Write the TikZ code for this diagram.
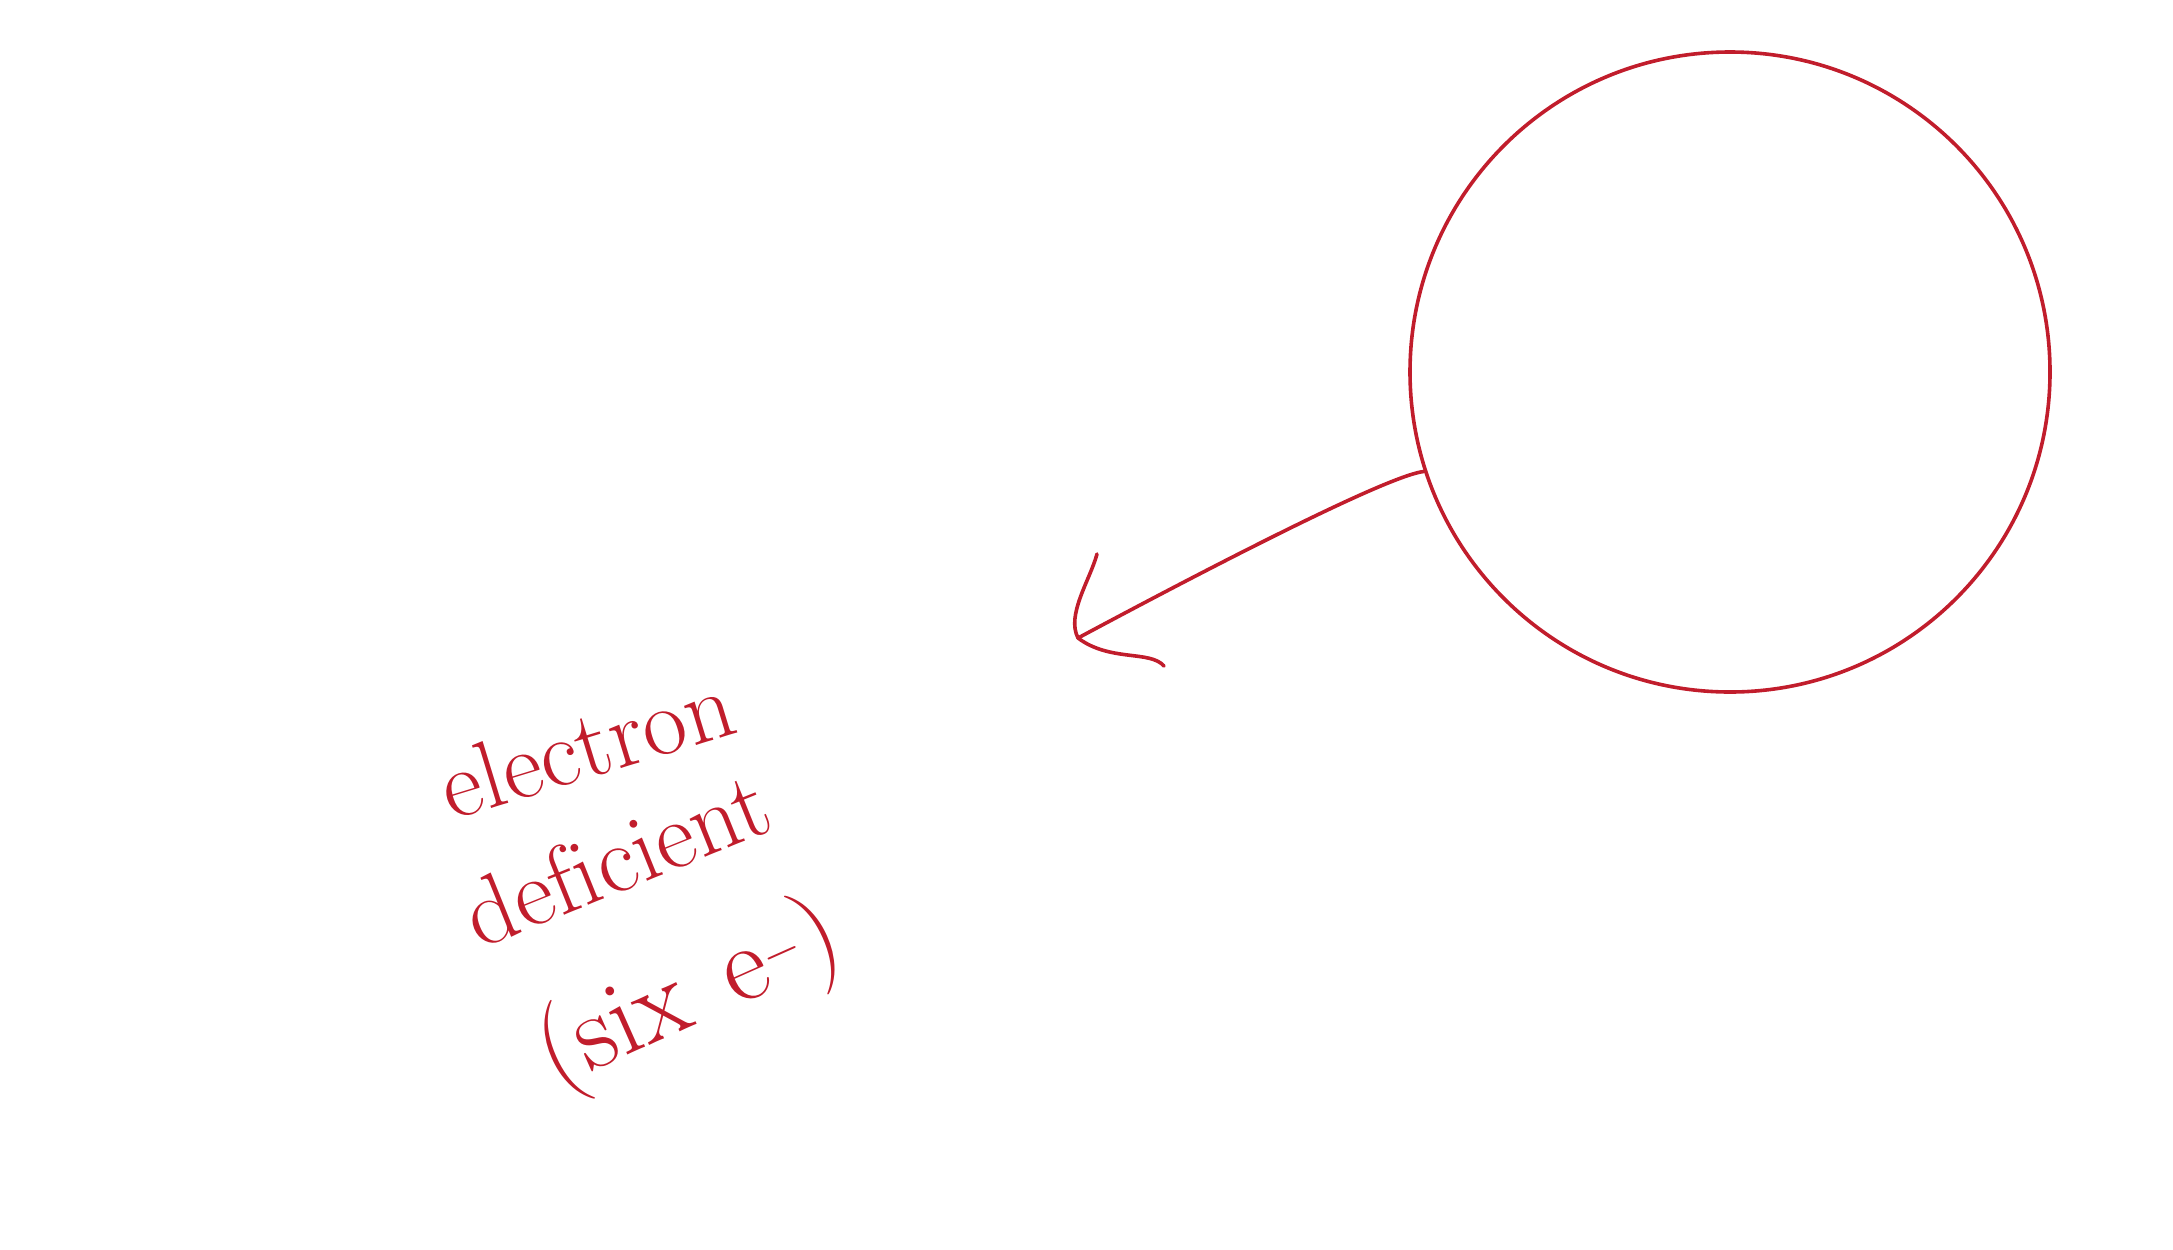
\documentclass[tikz,border=0pt]{standalone}
\usepackage{fontspec}
\usepackage{xcolor}
\definecolor{inkred}{HTML}{C11D2C}
\usepackage{tikz}
\usetikzlibrary{positioning}

\begin{document}
\begin{tikzpicture}[x=0.5pt,y=-0.5pt]
  \useasboundingbox (0,0) rectangle (2173,1249);
  \tikzset{ink/.style={draw=inkred,line width=1.8pt,line cap=round},
           note/.style={inkred,inner sep=0pt,
             font=\fontsize{48}{50}\selectfont\addfontfeatures{LetterSpace=12}}}
  % atom and arrow
  \node[ink,circle,minimum size=320pt,inner sep=0pt] (atom) at (1730,372) {};
  \coordinate (tip) at (1078,638);
  \draw[ink] (atom.198) .. controls (1385,476) and (1190,578) .. (tip);
  \draw[ink] (tip) .. controls (1066,615) and (1090,580) .. (1097,554);
  \draw[ink] (tip) .. controls (1110,662) and (1150,650) .. (1164,666);
  % label
  \node[note,rotate=17] (lblA) at (586,745) {electron};
  \node[note,rotate=22] (lblB) at (616,858) {def\kern0pt icient};
  \node[note,rotate=24,font=\fontsize{54}{56}\selectfont\addfontfeatures{LetterSpace=20}] (lblC) at (690,998) {(six\hspace{0.4em}e$^-$)};
\end{tikzpicture}
\end{document}
